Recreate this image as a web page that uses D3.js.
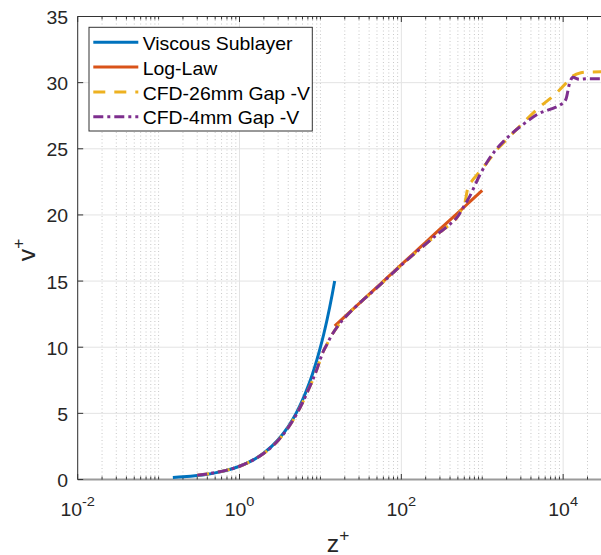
<!DOCTYPE html>
<html>
<head>
<meta charset="utf-8">
<script src="https://cdn.jsdelivr.net/npm/d3@7"></script>
<style>
  html, body { margin: 0; padding: 0; background: #fff; }
  svg { display: block; }
</style>
</head>
<body>
<svg id="chart" width="601" height="555"></svg>
<script>
// ---- data -------------------------------------------------------------
const viscousZ = [0.15, 0.2, 0.3, 0.4, 0.5, 0.7, 1, 1.5, 2, 3, 4, 5, 6, 7, 8, 9, 10, 11, 12, 13, 14, 15];
const viscousV = [0.15, 0.2, 0.3, 0.4, 0.5, 0.7, 1, 1.5, 2, 3, 4, 5, 6, 7, 8, 9, 10, 11, 12, 13, 14, 15];

const logLawZ = [15, 20, 30, 50, 70, 100, 150, 200, 300, 500, 700, 1000];
const logLawV = [11.61, 12.31, 13.30, 14.55, 15.37, 16.24, 17.23, 17.93, 18.92, 20.16, 20.98, 21.85];

const cfd26Z = [0.3, 0.4, 0.5, 0.7, 1, 1.5, 2, 3, 4, 5, 6, 7, 8, 9, 10.7, 12, 13.6, 16.4, 20.8, 30, 50, 100, 200, 300, 400, 500, 560,
                620, 650, 690, 731, 1000, 1300, 1500, 1800, 2500, 3500, 5000, 8220, 11000, 13200, 16600, 20000, 32000];
const cfd26V = [0.33, 0.42, 0.52, 0.71, 1.0, 1.5, 1.98, 2.95, 3.92, 4.88, 5.8, 6.7, 7.5, 8.3, 9.6, 10.2, 10.85, 11.6, 12.35, 13.3, 14.5, 16.2, 17.8, 18.7, 19.3, 19.9, 20.5,
                21.1, 21.8, 22.3, 22.5, 23.5, 24.4, 24.9, 25.4, 26.3, 27.2, 28.1, 29.2, 30.0, 30.5, 30.75, 30.8, 30.82];

const cfd4Z = [0.3, 0.4, 0.5, 0.7, 1, 1.5, 2, 3, 4, 5, 6, 7, 8, 9, 10.7, 12, 13.6, 16.4, 20.8, 30, 50, 100, 200, 300, 400, 500, 560,
               700, 930, 1150, 1420, 2175, 3300, 4650, 9020, 10400, 10900, 12000, 13200, 15800, 20000, 32000];
const cfd4V = [0.33, 0.42, 0.52, 0.71, 1.0, 1.5, 1.98, 2.95, 3.92, 4.88, 5.8, 6.7, 7.5, 8.3, 9.6, 10.2, 10.85, 11.6, 12.35, 13.3, 14.5, 16.2, 17.8, 18.7, 19.3, 19.9, 20.4,
               21.4, 23.0, 24.0, 24.8, 26.0, 26.9, 27.55, 28.3, 28.55, 28.8, 29.95, 30.4, 30.25, 30.3, 30.3];

const yTicks = [0, 5, 10, 15, 20, 25, 30, 35];
const xTickExps = [-2, 0, 2, 4];

const seriesNames = ["Viscous Sublayer", "Log-Law", "CFD-26mm Gap -V", "CFD-4mm Gap -V"];
const seriesColors = ["#0072BD", "#D95319", "#EDB120", "#7E2F8E"];
const seriesDash = [null, null, "12,9", "10,4,3,4"];

// ---- layout -------------------------------------------------------------
const FONT = '"Liberation Sans", Arial, Helvetica, sans-serif';
const SX = 1.08;              // glyph widening of the figure's text
const TXT = "#262626";
const plotL = 77.7, plotT = 16.5, plotB = 479.5, plotR = 603.6;

const svg = d3.select("#chart");
const x = d3.scaleLog().domain([1e-2, Math.pow(10, 4.5)]).range([plotL, plotR]);
const y = d3.scaleLinear().domain([0, 35]).range([plotB, plotT]);

svg.append("defs").append("clipPath").attr("id", "plotClip")
  .append("rect").attr("x", plotL).attr("y", plotT)
  .attr("width", plotR - plotL).attr("height", plotB - plotT);

// ---- grid -------------------------------------------------------------
const grid = svg.append("g");
// minor vertical grid (dotted) at 2..9 of every decade and at odd decades
const minorX = [];
for (let e = -2; e <= 4; e++) {
  for (let m = 1; m <= 9; m++) {
    const v = m * Math.pow(10, e);
    if (v > x.domain()[1]) continue;
    if (m === 1 && xTickExps.includes(e)) continue;
    minorX.push(v);
  }
}
grid.selectAll("line.minor").data(minorX).join("line")
  .attr("x1", d => x(d)).attr("x2", d => x(d))
  .attr("y1", plotT).attr("y2", plotB)
  .attr("stroke", "#c8c8c8").attr("stroke-width", 1)
  .attr("stroke-dasharray", "1,2.5");
// major grid
grid.selectAll("line.majx").data(xTickExps.map(e => Math.pow(10, e))).join("line")
  .attr("x1", d => x(d)).attr("x2", d => x(d))
  .attr("y1", plotT).attr("y2", plotB)
  .attr("stroke", "#e3e3e3").attr("stroke-width", 1);
grid.selectAll("line.majy").data(yTicks).join("line")
  .attr("x1", plotL).attr("x2", plotR)
  .attr("y1", d => y(d)).attr("y2", d => y(d))
  .attr("stroke", "#e3e3e3").attr("stroke-width", 1);

// ---- axes frame and ticks -------------------------------------------------
const ax = svg.append("g");
ax.append("line").attr("x1", plotL).attr("x2", plotR).attr("y1", plotT).attr("y2", plotT)
  .attr("stroke", "#333").attr("stroke-width", 1);
ax.append("line").attr("x1", plotL).attr("x2", plotL).attr("y1", plotT).attr("y2", plotB)
  .attr("stroke", "#333").attr("stroke-width", 1);
ax.append("line").attr("x1", plotL).attr("x2", plotR).attr("y1", plotB).attr("y2", plotB)
  .attr("stroke", "#9a9a9a").attr("stroke-width", 2.2);

const majorX = xTickExps.map(e => Math.pow(10, e));
// bottom and top ticks (inward)
[[plotB, -1], [plotT, 1]].forEach(([yy, dir]) => {
  ax.selectAll(null).data(minorX).join("line")
    .attr("x1", d => x(d)).attr("x2", d => x(d))
    .attr("y1", yy).attr("y2", yy + dir * 3)
    .attr("stroke", "#333").attr("stroke-width", 1);
  ax.selectAll(null).data(majorX).join("line")
    .attr("x1", d => x(d)).attr("x2", d => x(d))
    .attr("y1", yy).attr("y2", yy + dir * 5.5)
    .attr("stroke", "#333").attr("stroke-width", 1);
});
ax.selectAll(null).data(yTicks).join("line")
  .attr("x1", plotL).attr("x2", plotL + 5.5)
  .attr("y1", d => y(d)).attr("y2", d => y(d))
  .attr("stroke", "#333").attr("stroke-width", 1);

// ---- text helpers --------------------------------------------------------
function placeText(parent, px, py, anchor, size, rot) {
  const g = parent.append("g")
    .attr("transform", `translate(${px},${py})` + (rot ? ` rotate(${rot})` : "") + ` scale(${SX},1)`);
  return g.append("text")
    .attr("text-anchor", anchor)
    .attr("font-family", FONT)
    .attr("font-size", size)
    .attr("fill", TXT);
}

// y tick labels
yTicks.forEach(t => {
  placeText(svg, 68, y(t) + 7.5, "end", 18).text(t);
});
// x tick labels: 10^n
xTickExps.forEach(e => {
  const t = placeText(svg, x(Math.pow(10, e)), 516, "middle", 18);
  t.append("tspan").text("10");
  t.append("tspan").attr("font-size", 13.5).attr("dy", -10).text(String(e));
});

// axis titles
{
  const t = placeText(svg, 338, 551.5, "middle", 23);
  t.append("tspan").text("z");
  t.append("tspan").attr("font-size", 16).attr("dy", -11).text("+");
}
{
  const t = placeText(svg, 35, 250, "middle", 23, -90);
  t.append("tspan").text("v");
  t.append("tspan").attr("font-size", 16).attr("dy", -11).text("+");
}

// ---- series -------------------------------------------------------------
const series = [
  { z: viscousZ, v: viscousV },
  { z: logLawZ, v: logLawV },
  { z: cfd26Z, v: cfd26V },
  { z: cfd4Z, v: cfd4V }
];
const lineGen = d3.line()
  .x(d => x(d[0]))
  .y(d => y(d[1]))
  .curve(d3.curveMonotoneX);

const plot = svg.append("g").attr("clip-path", "url(#plotClip)");
series.forEach((s, i) => {
  const pts = s.z.map((zz, k) => [zz, s.v[k]]);
  plot.append("path")
    .datum(pts)
    .attr("d", lineGen)
    .attr("fill", "none")
    .attr("stroke", seriesColors[i])
    .attr("stroke-width", 3)
    .attr("stroke-dasharray", seriesDash[i])
    .attr("stroke-linejoin", "round");
});

// ---- legend -------------------------------------------------------------
const lg = svg.append("g");
lg.append("rect")
  .attr("x", 89).attr("y", 27.3).attr("width", 223.3).attr("height", 103.7)
  .attr("fill", "#fff").attr("stroke", "#333").attr("stroke-width", 1);
seriesNames.forEach((name, i) => {
  const by = 50 + i * 24.8;
  lg.append("line")
    .attr("x1", 93.3).attr("x2", 138.3)
    .attr("y1", by - 7.7).attr("y2", by - 7.7)
    .attr("stroke", seriesColors[i]).attr("stroke-width", 3)
    .attr("stroke-dasharray", seriesDash[i]);
  placeText(lg, 142.7, by, "start", 18).attr("fill", "#000").text(name);
});
</script>
</body>
</html>
